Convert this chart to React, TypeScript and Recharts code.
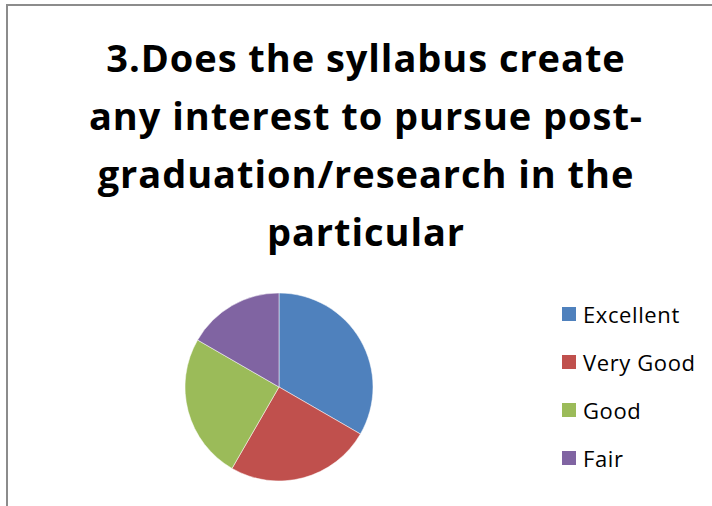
import { PieChart, Pie, Cell, Legend } from "recharts";

const CATEGORIES = ["Excellent", "Very Good", "Good", "Fair"];
const VALUES = [4, 3, 3, 2];
const COLORS = ["#4F81BD", "#C0504D", "#9BBB59", "#8064A2"];
const TITLE_LINES = [
  "3.Does the syllabus create",
  "any interest to pursue post-",
  "graduation/research in the",
  "particular",
];

const data = CATEGORIES.map((name, i) => ({ name, value: VALUES[i] }));

const FONT = "'Open Sans', Lato, sans-serif";

function LegendList() {
  return (
    <div>
      {CATEGORIES.map((name, i) => (
        <div
          key={name}
          style={{
            display: "flex",
            alignItems: "center",
            height: 48,
            fontFamily: FONT,
            fontSize: 22,
            letterSpacing: 0.6,
            color: "#000",
          }}
        >
          <span
            style={{
              width: 14,
              height: 14,
              background: COLORS[i],
              marginRight: 7,
              display: "inline-block",
            }}
          />
          {name}
        </div>
      ))}
    </div>
  );
}

export default function App() {
  return (
    <div
      style={{
        position: "absolute",
        left: 0,
        top: 0,
        width: 712,
        height: 506,
        background: "#fff",
        overflow: "hidden",
      }}
    >
      {/* chart frame, cut off at right and bottom */}
      <div
        style={{
          position: "absolute",
          left: 6,
          top: 4,
          width: 720,
          height: 520,
          border: "2px solid #8c8c8c",
          boxSizing: "border-box",
        }}
      />
      <div
        style={{
          position: "absolute",
          left: 0,
          top: 28,
          width: 732,
          textAlign: "center",
          fontFamily: FONT,
          fontWeight: 700,
          fontSize: 38,
          letterSpacing: 0.95,
          lineHeight: "58px",
          color: "#000",
        }}
      >
        {TITLE_LINES.map((t) => (
          <div key={t}>{t}</div>
        ))}
      </div>
      <div style={{ position: "absolute", left: 0, top: 0 }}>
        <PieChart
          width={712}
          height={506}
          margin={{ top: 0, right: 0, bottom: 0, left: 0 }}
        >
          <Pie
            data={data}
            dataKey="value"
            nameKey="name"
            cx={279}
            cy={387}
            outerRadius={94}
            startAngle={90}
            endAngle={-270}
            stroke="#fff"
            strokeWidth={0.5}
            isAnimationActive={false}
          >
            {data.map((d, i) => (
              <Cell key={d.name} fill={COLORS[i]} />
            ))}
          </Pie>
          <Legend
            layout="vertical"
            align="right"
            verticalAlign="top"
            content={() => <LegendList />}
            wrapperStyle={{ left: 562, top: 290, width: 150 }}
          />
        </PieChart>
      </div>
    </div>
  );
}
